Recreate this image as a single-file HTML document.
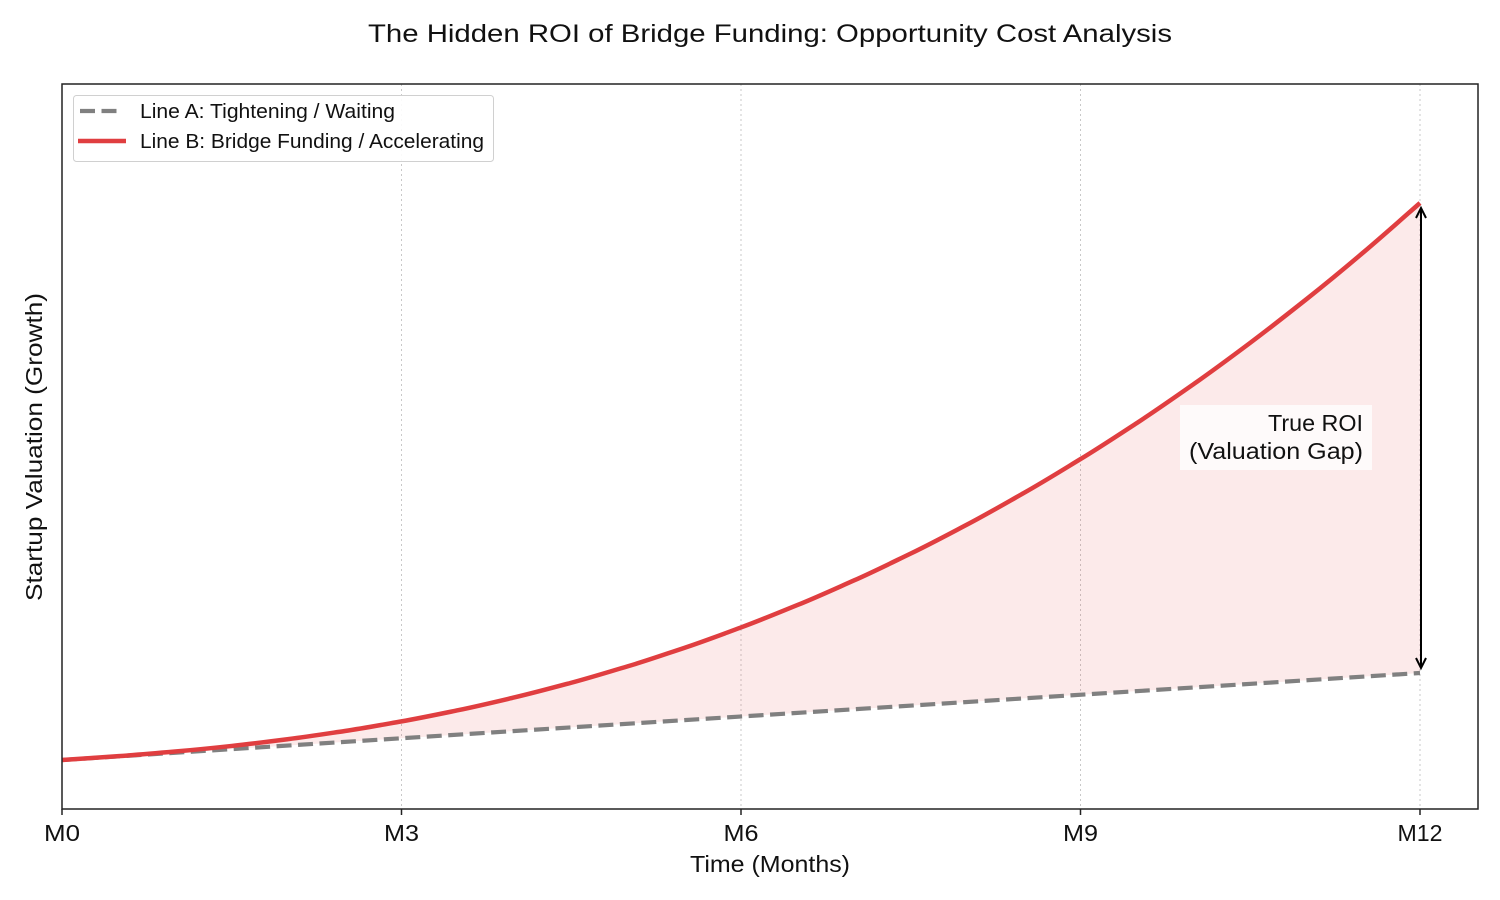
<!DOCTYPE html>
<html>
<head>
<meta charset="utf-8">
<style>
html,body{margin:0;padding:0;background:#fff;}
svg{display:block;}
text{font-family:"Liberation Sans",sans-serif;fill:#111;}
</style>
</head>
<body>
<svg width="1500" height="900" viewBox="0 0 1500 900" xmlns="http://www.w3.org/2000/svg">
<rect width="1500" height="900" fill="#fff"/>
<!-- Title -->
<text x="770" y="42" font-size="25" text-anchor="middle" textLength="804" lengthAdjust="spacingAndGlyphs">The Hidden ROI of Bridge Funding: Opportunity Cost Analysis</text>

<!-- Grid -->
<g stroke="#c8c8c8" stroke-width="1" stroke-dasharray="2 3">
<line x1="401.5" y1="84" x2="401.5" y2="809"/>
<line x1="741" y1="84" x2="741" y2="809"/>
<line x1="1080.5" y1="84" x2="1080.5" y2="809"/>
<line x1="1420" y1="84" x2="1420" y2="809"/>
</g>

<!-- Fill -->
<polygon fill="#e04040" fill-opacity="0.11" points="62,760 118.6,756.15 175.2,751.54 231.8,745.93 288.3,739.12 344.9,730.99 401.5,721.38 458.1,710.21 514.7,697.35 571.3,682.74 627.9,666.26 684.4,647.86 741,627.45 797.6,604.97 854.2,580.34 910.8,553.5 967.4,524.39 1023.9,492.95 1080.5,459.11 1137.1,422.84 1193.7,384.07 1250.3,342.74 1306.9,298.82 1363.5,252.27 1420,203 1420,673 62,760"/>

<!-- Line A dashed -->
<line x1="62" y1="760" x2="1420" y2="673" stroke="#808080" stroke-width="4.2" stroke-dasharray="15 6.5"/>

<!-- Line B (smooth) -->
<path fill="none" stroke="#e03e40" stroke-width="4.5" stroke-linejoin="round"
d="M62,760 C80.9,758.7 99.7,757.5 118.6,756.15 S156.3,753.2 175.2,751.54 S212.9,748 231.8,745.93 S269.4,741.5 288.3,739.12 S326,733.8 344.9,730.99 S382.6,724.7 401.5,721.38 S439.2,714.1 458.1,710.21 S495.8,701.8 514.7,697.35 S552.4,687.8 571.3,682.74 S609,671.8 627.9,666.26 S665.5,654.1 684.4,647.86 S722.1,634.4 741,627.45 S778.7,612.6 797.6,604.97 S835.3,588.7 854.2,580.34 S891.9,562.6 910.8,553.5 S948.5,534.3 967.4,524.39 S1005,503.6 1023.9,492.95 S1061.6,470.6 1080.5,459.11 S1118.2,435.2 1137.1,422.84 S1174.8,397.3 1193.7,384.07 S1231.4,356.9 1250.3,342.74 S1288,313.8 1306.9,298.82 S1344.6,268.3 1363.5,252.27 S1401.1,219.6 1420,203"/>

<!-- Arrow -->
<g stroke="#000" stroke-width="2" fill="none">
<line x1="1421" y1="208" x2="1421" y2="668"/>
<polyline points="1416,218 1421,208 1426,218"/>
<polyline points="1416,658 1421,668 1426,658"/>
</g>

<!-- Annotation -->
<rect x="1180" y="405" width="192" height="65" fill="#fff" fill-opacity="0.75"/>
<text x="1363" y="431" font-size="23" text-anchor="end" textLength="95" lengthAdjust="spacingAndGlyphs">True ROI</text>
<text x="1363" y="459" font-size="23" text-anchor="end" textLength="174" lengthAdjust="spacingAndGlyphs">(Valuation Gap)</text>

<!-- Axes frame -->
<rect x="62" y="84" width="1416" height="725" fill="none" stroke="#222" stroke-width="1.5"/>

<!-- Ticks -->
<g stroke="#222" stroke-width="1.5">
<line x1="62" y1="809" x2="62" y2="815"/>
<line x1="401.5" y1="809" x2="401.5" y2="815"/>
<line x1="741" y1="809" x2="741" y2="815"/>
<line x1="1080.5" y1="809" x2="1080.5" y2="815"/>
<line x1="1420" y1="809" x2="1420" y2="815"/>
</g>
<g font-size="23" text-anchor="middle">
<text x="62" y="841" textLength="36" lengthAdjust="spacingAndGlyphs">M0</text>
<text x="401.5" y="841" textLength="35" lengthAdjust="spacingAndGlyphs">M3</text>
<text x="741" y="841" textLength="35" lengthAdjust="spacingAndGlyphs">M6</text>
<text x="1080.5" y="841" textLength="35" lengthAdjust="spacingAndGlyphs">M9</text>
<text x="1420" y="841" textLength="45" lengthAdjust="spacingAndGlyphs">M12</text>
</g>

<!-- Axis labels -->
<text x="770" y="872" font-size="23" text-anchor="middle" textLength="160" lengthAdjust="spacingAndGlyphs">Time (Months)</text>
<text transform="translate(42,447) rotate(-90)" font-size="23" text-anchor="middle" textLength="308" lengthAdjust="spacingAndGlyphs">Startup Valuation (Growth)</text>

<!-- Legend -->
<rect x="73.5" y="95.5" width="420" height="66" rx="3" fill="#fff" fill-opacity="0.9" stroke="#d0d0d0" stroke-width="1"/>
<line x1="80" y1="111" x2="120" y2="111" stroke="#808080" stroke-width="4.2" stroke-dasharray="15 6.5"/>
<line x1="78" y1="141" x2="126" y2="141" stroke="#e03e40" stroke-width="4.5"/>
<text x="140" y="118" font-size="20" textLength="255" lengthAdjust="spacingAndGlyphs">Line A: Tightening / Waiting</text>
<text x="140" y="148" font-size="20" textLength="344" lengthAdjust="spacingAndGlyphs">Line B: Bridge Funding / Accelerating</text>
</svg>
</body>
</html>
